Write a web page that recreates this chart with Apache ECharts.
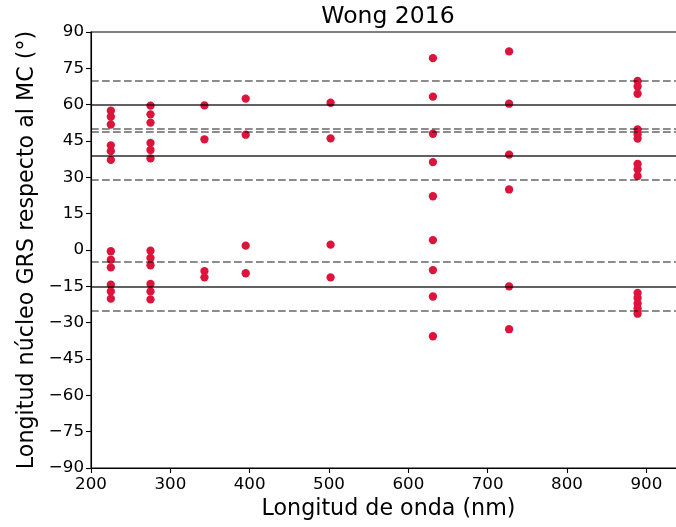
<!DOCTYPE html>
<html>
<head>
<meta charset="utf-8">
<script src="https://cdn.jsdelivr.net/npm/echarts@6/dist/echarts.min.js"></script>
<style>
  html, body { margin: 0; padding: 0; background: #fff; }
  #chart { width: 676px; height: 527px; }
</style>
</head>
<body>
<div id="chart"></div>
<script>
// HST filter wavelengths (nm)
const wavelengths = [225, 275, 343, 395, 502, 631, 727, 889];

// GRS core longitude relative to the central meridian (deg), per filter
const lon225 = [57.5, 55.0, 51.8, 43.2, 40.8, 37.2, -0.5, -4.0, -7.2, -14.3, -17.1, -20.1];
const lon275 = [59.6, 56.0, 52.6, 44.2, 41.3, 37.8, -0.3, -3.3, -6.3, -14.0, -17.1, -20.4];
const lon343 = [59.7, 45.7, -8.7, -11.3];
const lon395 = [62.5, 47.6, 1.8, -9.6];
const lon502 = [60.8, 46.1, 2.2, -11.3];
const lon631 = [79.2, 63.3, 48.0, 36.3, 22.2, 4.1, -8.3, -19.2, -35.6];
const lon727 = [82.0, 60.4, 39.4, 25.0, -15.0, -32.7];
const lon889 = [69.8, 67.5, 64.5, 49.8, 47.8, 46.0, 35.5, 33.3, 30.5, -17.7, -19.8, -22.1, -24.1, -26.3];

// Mean positions (solid) and their ±10° bounds (dashed)
const meanLines = [60, 39, -15];
const boundLines = [70, 50, 49, 29, -5, -25];

// Axis ticks
const xTicks = [200, 300, 400, 500, 600, 700, 800, 900];
const yTicks = [-90, -75, -60, -45, -30, -15, 0, 15, 30, 45, 60, 75, 90];

const groups = [lon225, lon275, lon343, lon395, lon502, lon631, lon727, lon889];
const points = [];
groups.forEach((g, i) => g.forEach(v => points.push([wavelengths[i], v])));

const FONT = 'DejaVu Sans';
const minus = v => String(v).replace('-', '\u2212');

const chart = echarts.init(document.getElementById('chart'), null, { renderer: 'canvas' });
chart.setOption({
  animation: false,
  backgroundColor: '#ffffff',
  grid: {
    left: 91, top: 32, width: 595, height: 436,
    containLabel: false, outerBoundsMode: 'none',
    show: true, borderColor: '#000', borderWidth: 1.1, backgroundColor: 'transparent'
  },
  graphic: [{
    type: 'text', x: 388, y: 17,
    style: {
      text: 'Wong 2016', fill: '#000',
      font: '23.5px "DejaVu Sans"', textAlign: 'center', textVerticalAlign: 'middle'
    }
  }],
  xAxis: {
    type: 'value', min: xTicks[0], max: 950, interval: 100,
    name: 'Longitud de onda (nm)', nameLocation: 'middle', nameGap: 29,
    nameTextStyle: { fontFamily: FONT, fontSize: 22.2, color: '#000' },
    axisLine: { show: true, onZero: false, lineStyle: { color: '#000', width: 1.1 } },
    axisTick: { show: true, inside: false, length: 5, lineStyle: { color: '#000', width: 1.1 } },
    axisLabel: {
      fontFamily: FONT, fontSize: 16.7, color: '#000', margin: 8,
      formatter: v => (xTicks.indexOf(v) >= 0 ? String(v) : '')
    },
    splitLine: { show: false }
  },
  yAxis: {
    type: 'value', min: yTicks[0], max: yTicks[yTicks.length - 1], interval: 15,
    name: 'Longitud núcleo GRS respecto al MC (°)', nameLocation: 'middle', nameGap: 53,
    nameRotate: 90,
    nameTextStyle: { fontFamily: FONT, fontSize: 22.2, color: '#000' },
    axisLine: { show: true, onZero: false, lineStyle: { color: '#000', width: 1.1 } },
    axisTick: { show: true, inside: false, length: 5, lineStyle: { color: '#000', width: 1.1 } },
    axisLabel: {
      fontFamily: FONT, fontSize: 16.7, color: '#000', margin: 7,
      formatter: v => minus(v)
    },
    splitLine: { show: false }
  },
  series: [
    {
      type: 'scatter',
      data: points,
      symbol: 'circle',
      symbolSize: 8.3,
      itemStyle: { color: '#DC143C', opacity: 1 },
      z: 2
    },
    {
      type: 'line',
      data: [],
      z: 3,
      markLine: {
        silent: true,
        symbol: 'none',
        label: { show: false },
        animation: false,
        data: meanLines.map(v => ({
          yAxis: v,
          lineStyle: { color: '#000', opacity: 0.62, width: 2, type: 'solid' }
        })).concat(boundLines.map(v => ({
          yAxis: v,
          lineStyle: { color: '#000', opacity: 0.45, width: 2, type: [7.7, 3.3] }
        })))
      }
    }
  ]
});
</script>
</body>
</html>
